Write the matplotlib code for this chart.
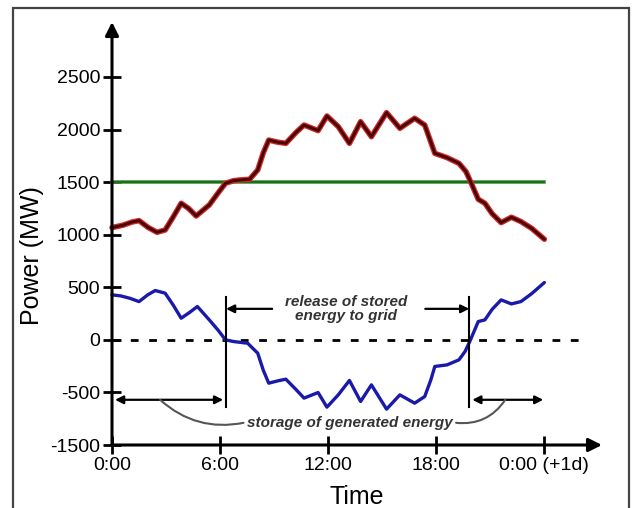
import matplotlib.pyplot as plt
from matplotlib.patches import Rectangle

plt.rcParams['font.family'] = ['Liberation Sans', 'DejaVu Sans']

# hours of the day
hours_demand = [0, 0.6, 1.1, 1.5, 2.0, 2.5, 2.95, 3.4, 3.84, 4.25, 4.67, 5.4, 5.9, 6.3,
                6.75, 7.2, 7.64, 8.09, 8.4, 8.7, 9.2, 9.65, 10.2, 10.66, 11.44, 11.93,
                12.56, 13.18, 13.8, 14.4, 15.24, 15.98, 16.8, 17.36, 17.7, 17.92, 18.6,
                19.26, 19.65, 19.93, 20.33, 20.7, 21.1, 21.6, 22.17, 22.7, 23.3, 24]
demand = [1068, 1090, 1120, 1134, 1070, 1023, 1045, 1170, 1299, 1250, 1178, 1283, 1400, 1489,
          1514, 1522, 1527, 1616, 1780, 1900, 1880, 1869, 1970, 2043, 1990, 2129,
          2028, 1869, 2075, 1932, 2161, 2012, 2107, 2043, 1880, 1774, 1733,
          1679, 1600, 1495, 1337, 1299, 1200, 1115, 1166, 1125, 1060, 957]

hours_storage = [0, 0.49, 1.0, 1.5, 2.0, 2.4, 2.95, 3.4, 3.84, 4.3, 4.74, 5.4, 5.9, 6.3,
                 6.75, 7.53, 8.09, 8.4, 8.7, 9.2, 9.65, 10.2, 10.66, 11.44, 11.93, 12.56,
                 13.18, 13.8, 14.4, 15.24, 15.98, 16.8, 17.36, 17.7, 17.92, 18.6, 19.26,
                 19.6, 19.9, 20.33, 20.7, 21.1, 21.6, 22.17, 22.7, 23.3, 24]
storage = [428, 418, 395, 364, 430, 469, 444, 330, 206, 260, 317, 190, 90, 0,
           -16, -32, -127, -290, -412, -390, -374, -470, -554, -501, -640, -523,
           -386, -586, -428, -659, -523, -602, -539, -380, -253, -238, -190,
           -110, 0, 174, 190, 290, 380, 342, 364, 440, 545]

generation = 1500
xticks = [0, 6, 12, 18, 24]
xtick_labels = ['0:00', '6:00', '12:00', '18:00', '0:00 (+1d)']
yticks = [-1000, -500, 0, 500, 1000, 1500, 2000, 2500]
ytick_labels = ['-1500', '-500', '0', '500', '1000', '1500', '2000', '2500']

fig = plt.figure(figsize=(6.32, 5.08), dpi=100)
ax = fig.add_axes([112 / 632, 1 - 445 / 508, 490 / 632, 423 / 508])
ax.set_xlim(0, 27.2)
ax.set_ylim(-1000, 3023)
for s in ax.spines.values():
    s.set_visible(False)

# axes with arrows
ax.annotate('', xy=(0, 3023), xytext=(0, -1000), annotation_clip=False,
            arrowprops=dict(arrowstyle='-|>', lw=2.2, color='black', mutation_scale=20,
                            shrinkA=0, shrinkB=0))
ax.annotate('', xy=(27.2, -1000), xytext=(0, -1000), annotation_clip=False,
            arrowprops=dict(arrowstyle='-|>', lw=2.2, color='black', mutation_scale=20,
                            shrinkA=0, shrinkB=0))

ax.set_xticks(xticks)
ax.set_xticklabels(xtick_labels)
ax.set_yticks(yticks)
ax.set_yticklabels(ytick_labels)
ax.tick_params(direction='inout', length=13, width=2, labelsize=14, pad=2)

# curves
ax.plot([0, 26.4], [0, 0], color='black', lw=2, ls=(0, (2.8, 3.8)), clip_on=False)
ax.plot([0, 24], [generation, generation], color='#3a9a3a', lw=2.6, clip_on=False)
ax.plot([0, 24], [generation, generation], color='#1f5f1f', lw=1.2, clip_on=False)
ax.plot(hours_demand, demand, color='#d42a2a', lw=4, solid_joinstyle='round',
        solid_capstyle='round', clip_on=False)
ax.plot(hours_demand, demand, color='#4a0505', lw=2.2, solid_joinstyle='round',
        solid_capstyle='round', clip_on=False)
ax.plot(hours_storage, storage, color='#1a1aaa', lw=2.4, solid_joinstyle='round',
        solid_capstyle='round', clip_on=False)

# annotations
ax.plot([6.33, 6.33], [-637, 409], color='black', lw=1.5)
ax.plot([19.83, 19.83], [-637, 409], color='black', lw=1.5)
arr = dict(arrowstyle='-|>', lw=1.6, color='black', mutation_scale=12, shrinkA=0, shrinkB=0)
ax.annotate('', xy=(6.33, 295), xytext=(8.89, 295), arrowprops=arr)
ax.annotate('', xy=(19.83, 295), xytext=(17.39, 295), arrowprops=arr)
arr2 = dict(arrowstyle='<|-|>', lw=1.6, color='black', mutation_scale=12, shrinkA=0, shrinkB=0)
ax.annotate('', xy=(6.17, -570), xytext=(0.17, -570), arrowprops=arr2)
ax.annotate('', xy=(23.94, -570), xytext=(20.0, -570), arrowprops=arr2)

tstyle = dict(fontsize=11, fontstyle='italic', fontweight='bold', color='#333333',
              ha='center', va='center')
ax.text(13.0, 295, 'release of stored\nenergy to grid', linespacing=0.95, **tstyle)
ax.text(13.22, -789, 'storage of generated energy', **tstyle)
ax.annotate('', xy=(7.3, -789), xytext=(2.67, -570),
            arrowprops=dict(arrowstyle='-', lw=1.5, color='#555555',
                            connectionstyle='arc3,rad=0.25', shrinkA=0, shrinkB=0))
ax.annotate('', xy=(19.1, -789), xytext=(21.83, -570),
            arrowprops=dict(arrowstyle='-', lw=1.5, color='#555555',
                            connectionstyle='arc3,rad=-0.3', shrinkA=0, shrinkB=0))

fig.text(32 / 632, 1 - 256 / 508, 'Power (MW)', rotation=90, fontsize=18,
         ha='center', va='center')
fig.text(357 / 632, 1 - 504 / 508, 'Time', fontsize=18, ha='center', va='baseline')

# picture frame
fig.patches.append(Rectangle((13 / 632, -0.05), 616 / 632, 1.05 - 8 / 508,
                             transform=fig.transFigure, fill=False,
                             edgecolor='#444444', lw=1.6))

fig.savefig('out.png', dpi=100)
